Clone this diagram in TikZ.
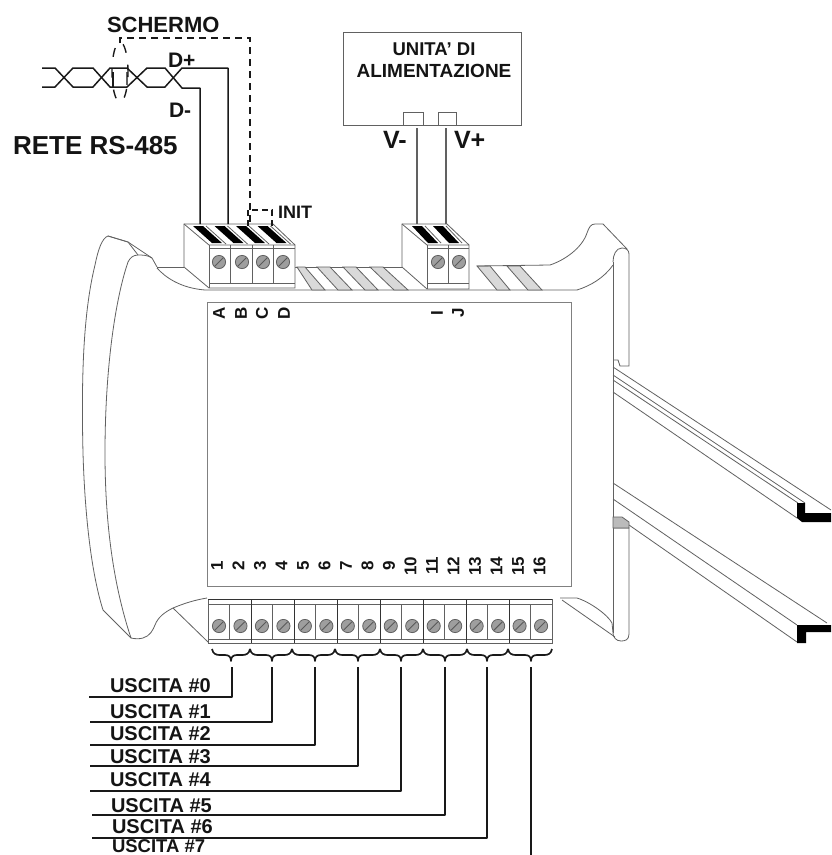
\documentclass[tikz,border=0pt]{standalone}
\usepackage{fontspec}
\setmainfont{Liberation Sans}
\definecolor{bodyline}{gray}{0.38}
\definecolor{panelline}{gray}{0.5}
\definecolor{stripegray}{gray}{0.85}
\definecolor{screwgray}{gray}{0.62}
\newcommand\fsz[1]{\fontsize{#1}{#1}\selectfont\bfseries}
\newcommand\screwat[2]{%
  \draw[bodyline,fill=screwgray,line width=.8pt] (#1,#2) circle (6.6);
  \draw[black!65,line width=.9pt] (#1-4.2,#2+4.2) -- (#1+4.2,#2-4.2);}
\tikzset{
  bodyln/.style={draw=bodyline,line width=.8pt},
  wire/.style={draw=black!90,line width=1.5pt,line join=round},
  pwire/.style={draw=bodyline,line width=1.1pt},
  shieldln/.style={draw=black!90,line width=1.7pt,dash pattern=on 7pt off 5pt},
  stripe/.style={bodyln,fill=stripegray},
  lab/.style={inner sep=0pt,outer sep=0pt,text=black!92},
  pinlab/.style={lab,rotate=90,anchor=center,font=\fsz{17}},
  outlab/.style={lab,anchor=base west,font=\fsz{20}},
}
\begin{document}
\begin{tikzpicture}[x=1pt,y=-1pt]
\useasboundingbox (0,0) rectangle (831,855);
\fill[white] (0,0) rectangle (831,855);

% ---- left lobe
\draw[bodyln] (157,267) -- (152,258) -- (128,242) -- (108,236)
  .. controls (102,238) and (98,250) .. (95,265)
  .. controls (84,310) and (81,370) .. (83,453)
  .. controls (85,520) and (92,575) .. (103,610)
  -- (131,638)
  .. controls (135,639) and (140,639) .. (143,638)
  .. controls (150,636) and (153,630) .. (155,625)
  .. controls (158,617) and (165,612) .. (173,608)
  .. controls (185,603) and (195,600) .. (207,598);
\draw[bodyln] (152,258) .. controls (148,255) and (142,255) .. (138,255)
  .. controls (133,255) and (130,258) .. (128,262)
  .. controls (115,300) and (105,370) .. (105,453)
  .. controls (105,530) and (115,590) .. (131,638);
\draw[bodyln] (108,236) -- (128,242) -- (138,255);
\draw[bodyln] (157,268) .. controls (165,277) and (180,288) .. (205,290) -- (577,290);
\draw[bodyln] (173,608) -- (208,642);
\draw[bodyln] (157,267) -- (184,267);

% ---- top edge and hatch stripes
\draw[bodyln] (295,267) -- (402,267);
\draw[stripe] (297,267) -- (305,267) -- (325,290) -- (312,290) -- cycle;
\foreach \p/\q/\r in {317/338/352,343/365/378,370/394/408}{
  \draw[stripe] (\p,267) -- (\p+13,267) -- (\r,290) -- (\q,290) -- cycle;}
\draw[stripe] (477,266) -- (490,266) -- (510,290) -- (497,290) -- cycle;
\draw[stripe] (507,266) -- (520,266) -- (542,290) -- (528,290) -- cycle;
\draw[bodyln] (477,266) -- (550,265)
  .. controls (565,260) and (582,248) .. (587,233)
  .. controls (589,227) and (591,224) .. (595,224)
  -- (603,224) -- (627,249);
\draw[bodyln] (577,290) .. controls (590,286) and (604,278) .. (613,265);

% ---- right wall and flanges
\draw[bodyln,line width=.9pt] (613,262) -- (613,633);
\draw[bodyln] (613,262) .. controls (613,255) and (616,248) .. (622,248)
  .. controls (626,248) and (629,250) .. (629,254)
  -- (629,366) -- (620,366) -- (618,360) -- (613,360);
\draw[bodyln] (613,528) -- (629,528) -- (629,634)
  .. controls (629,640) and (625,641) .. (621,641)
  .. controls (616,641) and (613,637) .. (613,633);
\draw[bodyln,fill=screwgray!70!white] (613,517) -- (622,517) -- (629,522) -- (629,528) -- (613,528) -- cycle;
\draw[bodyln] (560,598) -- (577,598)
  .. controls (590,602) and (608,615) .. (612,623) -- (613,633);
\draw[bodyln] (562,600) -- (615,637);

% ---- DIN rail
\draw[bodyln] (613,367) -- (831,510);
\draw[bodyln] (613,375) -- (805,503);
\draw[bodyln] (613,380) -- (798,503);
\draw[bodyln] (613,392) -- (797,518);
\fill[black] (797,503) -- (805,503) -- (805,513) -- (831,513) -- (831,522) -- (802,522) -- (797,518) -- cycle;
\draw[bodyln] (613,483) -- (827,623);
\draw[bodyln] (613,499) -- (797,625);
\draw[bodyln] (629,525) -- (797,642);
\draw[bodyln] (797,625) -- (797,642);
\fill[black] (797,625) -- (831,625) -- (831,632) -- (806,632) -- (806,643) -- (797,643) -- cycle;

% ---- front panel
\draw[draw=panelline,line width=1pt] (207,302) rectangle (571,586);

% ---- terminal block A
\draw[bodyln,fill=white] (184,224) -- (273,224) -- (295,245) -- (295,288) -- (209,288) -- (184,267) -- cycle;
\draw[bodyln] (184,224) -- (209,245) -- (295,245);
\draw[bodyln] (209,248) -- (295,248);
\draw[bodyln] (209,283) -- (295,283);
\draw[bodyln] (209,245) -- (209,288);
\foreach \x in {230,252,273}{\draw[bodyln] (\x,245) -- (\x,283);}
\foreach \x in {193,214.5,236,257.5}{
  \draw[bodyln] (\x+13,226) -- (\x+33,244);
  \fill[black] (\x,226) -- (\x+10,226) -- (\x+29,243) -- (\x+19,243) -- cycle;}
\foreach \x in {219,242,263,283}{\screwat{\x}{262}}

% ---- terminal block B
\draw[bodyln,fill=white] (402,224) -- (447,224) -- (469,245) -- (469,289) -- (427,289) -- (402,267) -- cycle;
\draw[bodyln] (402,224) -- (427,245) -- (469,245);
\draw[bodyln] (427,248) -- (469,248);
\draw[bodyln] (427,283) -- (469,283);
\draw[bodyln] (427,245) -- (427,289);
\draw[bodyln] (448,245) -- (448,283);
\foreach \x in {412,433}{
  \draw[bodyln] (\x+13,226) -- (\x+29,243);
  \fill[black] (\x,226) -- (\x+10,226) -- (\x+26,243) -- (\x+16,243) -- cycle;}
\foreach \x in {438,459}{\screwat{\x}{262}}

% ---- bottom terminal strip
\draw[bodyln,fill=white] (208,599) rectangle (552,643);
\draw[bodyln] (208,604) -- (552,604);
\draw[bodyln] (208,639) -- (552,639);
\draw[black!80,line width=.9pt] (208,599) -- (552,599);
\foreach \i in {1,3,...,15}{\draw[bodyln] (208+21.5*\i,604) -- (208+21.5*\i,639);}
\foreach \i in {2,4,...,14}{\draw[black!80,line width=.9pt] (208+21.5*\i,599) -- (208+21.5*\i,643);}
\foreach \i in {0,...,15}{\screwat{219+21.47*\i}{626}}

% ---- braces
\foreach \a/\t/\b in {212/231/250,250/272/292,292/315/335,335/358/380,380/401/423,423/445/467,467/487/508,508/531/552}{
  \draw[wire,line width=1.7pt] (\a,649) .. controls (\a+1,654) and (\a+4,655) .. (\a+8,655) -- (\t-6,655)
    .. controls (\t-2,655) and (\t,657) .. (\t,661)
    .. controls (\t,657) and (\t+2,655) .. (\t+6,655) -- (\b-8,655)
    .. controls (\b-4,655) and (\b-1,654) .. (\b,649);}

% ---- output labels and lines
\node[outlab] (u0) at (110,692) {USCITA \#0};
\node[outlab] (u1) at (110,718) {USCITA \#1};
\node[outlab] (u2) at (110,740) {USCITA \#2};
\node[outlab] (u3) at (110,763) {USCITA \#3};
\node[outlab] (u4) at (110,786) {USCITA \#4};
\node[outlab] (u5) at (111,812) {USCITA \#5};
\node[outlab] (u6) at (112,833) {USCITA \#6};
\node[outlab,font=\fsz{18.5}] (u7) at (112,852.6) {USCITA \#7};
\coordinate (o0) at (232,667); \coordinate (e0) at (89,697);
\coordinate (o1) at (272,667); \coordinate (e1) at (90,722);
\coordinate (o2) at (315,667); \coordinate (e2) at (90,745);
\coordinate (o3) at (358,667); \coordinate (e3) at (90,766);
\coordinate (o4) at (401,667); \coordinate (e4) at (90,791);
\coordinate (o5) at (445,667); \coordinate (e5) at (92,815);
\coordinate (o6) at (487,667); \coordinate (e6) at (92,838);
\coordinate (o7) at (531,667); \coordinate (e7) at (531,855);
\foreach \k in {0,...,6}{\draw[wire] (o\k) |- (e\k);}
\draw[wire] (o7) -- (e7);

% ---- twisted pair
\draw[wire] (42,68) -- (55,68) -- (73,87) -- (93,87) -- (110,68) -- (127,68) -- (147,87) -- (165,87) -- (182,68) -- (228,68) -- (228,224);
\draw[wire] (42,87) -- (55,87) -- (73,68) -- (93,68) -- (110,87) -- (127,87) -- (147,68) -- (165,68) -- (182,88) -- (200,88) -- (200,224);
\draw[wire] (113,72) -- (113,87);
\draw[bodyln,line width=1.2pt] (127,72) -- (127,85);
\draw[draw=black!90,line width=1.4pt,dash pattern=on 9pt off 12pt,dash phase=4pt] (120,72) ellipse (8 and 30);
\draw[shieldln] (120,43) -- (120,38) -- (250,38) -- (250,226);
\draw[shieldln,dash pattern=on 6pt off 4pt] (248,226) -- (248,210) -- (272,210) -- (272,226);

% ---- power supply
\node[bodyln,line width=1.1pt,minimum width=178pt,minimum height=93pt,inner sep=0pt,anchor=north west] (psu) at (343,32) {};
\node[bodyln,minimum width=20pt,minimum height=13pt,inner sep=0pt,anchor=north west] (pm) at (403,112) {};
\node[bodyln,minimum width=18pt,minimum height=13pt,inner sep=0pt,anchor=north west] (pp) at (438,112) {};
\coordinate (wm0) at (417,128); \coordinate (wm1) at (417,224);
\coordinate (wp0) at (446,128); \coordinate (wp1) at (446,224);
\draw[pwire] (wm0) -- (wm1);
\draw[pwire] (wp0) -- (wp1);
\node[lab,anchor=base,font=\fsz{18.5}] (ua) at (434,55) {UNITA' DI};
\node[lab,anchor=base,font=\fsz{19}] (ub) at (434,77) {ALIMENTAZIONE};
\node[lab,anchor=base west,font=\fsz{25}] (vm) at (383,148) {V-};
\node[lab,anchor=base west,font=\fsz{25}] (vp) at (454,148) {V+};

% ---- top labels
\node[lab,anchor=base west,font=\fsz{22}] (sch) at (107,32) {SCHERMO};
\node[lab,anchor=base west,font=\fsz{21}] (dp) at (168,67) {D+};
\node[lab,anchor=base west,font=\fsz{21}] (dm) at (169,117) {D-};
\node[lab,anchor=base west,font=\fsz{26}] (rete) at (13,154) {RETE RS-485};
\node[lab,anchor=base west,font=\fsz{18}] (init) at (278,218) {INIT};

% ---- pin labels
\foreach \n/\x in {A/219,B/241,C/262,D/284,I/437,J/458}{
  \node[pinlab] (pin\n) at (\x,313) {\n};}
\foreach \n in {1,...,16}{
  \node[pinlab] (num\n) at (217+21.5*\n-21.5,566) {\n};}
\end{tikzpicture}
\end{document}
